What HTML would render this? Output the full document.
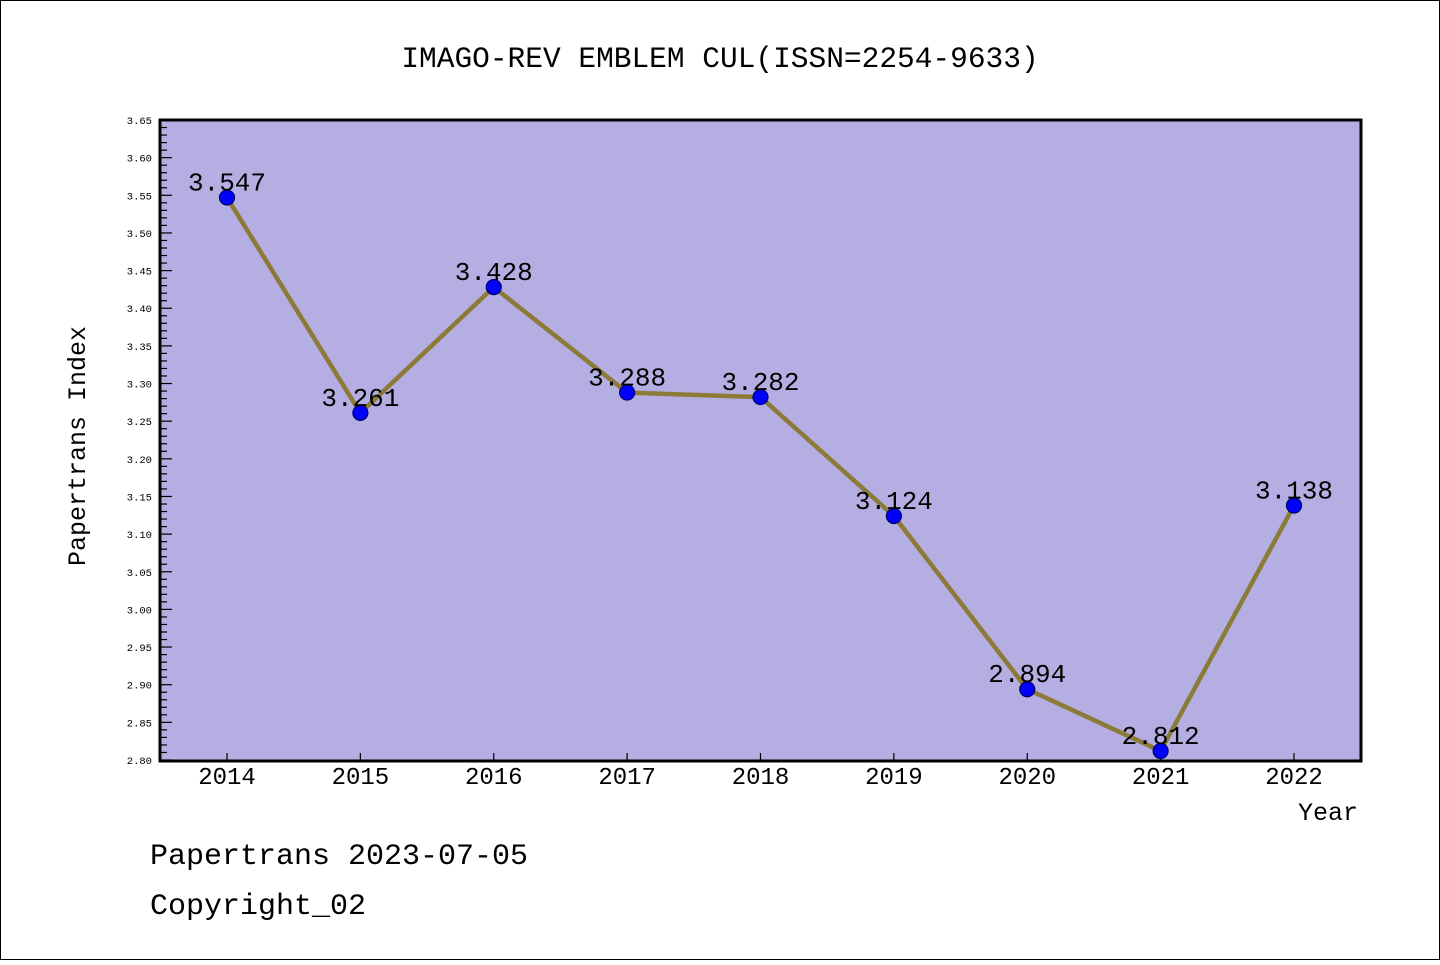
<!DOCTYPE html>
<html><head><meta charset="utf-8"><style>
body{margin:0;background:#fff}
svg text{font-family:"Liberation Mono",monospace;fill:#000}
</style></head><body>
<svg width="1440" height="960" xmlns="http://www.w3.org/2000/svg">
<rect x="0.5" y="0.5" width="1439" height="959" fill="#fff" stroke="#000"/>
<text x="720" y="67" font-size="29.5" text-anchor="middle">IMAGO-REV EMBLEM CUL(ISSN=2254-9633)</text>
<rect x="160" y="120" width="1201" height="641" fill="#b5aee2"/>
<g id="ticks"></g>
<g id="series"></g>
<rect x="160" y="120" width="1201" height="641" fill="none" stroke="#000" stroke-width="3"/>
<text transform="translate(85,446) rotate(-90)" font-size="25" text-anchor="middle">Papertrans Index</text>
<text x="1358" y="820" font-size="25" text-anchor="end">Year</text>
<text x="150" y="864" font-size="30">Papertrans 2023-07-05</text>
<text x="150" y="914" font-size="30">Copyright_02</text>
</svg>
<script>
const years=[2014,2015,2016,2017,2018,2019,2020,2021,2022];
const values=[3.547,3.261,3.428,3.288,3.282,3.124,2.894,2.812,3.138];
const valueLabels=["3.547","3.261","3.428","3.288","3.282","3.124","2.894","2.812","3.138"];
const yTicks=["2.80","2.85","2.90","2.95","3.00","3.05","3.10","3.15","3.20","3.25","3.30","3.35","3.40","3.45","3.50","3.55","3.60","3.65"];
const NS="http://www.w3.org/2000/svg";
const yMin=2.80,yMax=3.65,yTop=120,yBot=760;
function ys(v){return yBot-(v-yMin)/(yMax-yMin)*(yBot-yTop);}
function xs(yr){return 227+(yr-2014)*(1294-227)/8;}
function mk(tag,attrs,parent){const e=document.createElementNS(NS,tag);for(const k in attrs)e.setAttribute(k,attrs[k]);parent.appendChild(e);return e;}
const tg=document.getElementById('ticks'),sg=document.getElementById('series');
for(let i=0;i<=85;i++){
  const v=yMin+i*0.01,y=ys(v),major=i%5===0;
  const t=mk('line',{x1:160,x2:major?172:167,y1:y,y2:y,stroke:'#000','stroke-width':1.2},tg);
  
  
}
yTicks.forEach(s=>{
  const t=mk('text',{x:152,y:ys(parseFloat(s))+4,'font-size':10.5,'text-anchor':'end'},tg);
  t.textContent=s;
  
  
});
years.forEach(yr=>{
  const x=xs(yr);
  const t=mk('line',{x1:x,x2:x,y1:761,y2:753,stroke:'#000','stroke-width':1.2},tg);
  
  
  const l=mk('text',{x:x,y:784,'font-size':24,'text-anchor':'middle'},tg);
  l.textContent=String(yr);
  
  
});
const pts=years.map((yr,i)=>xs(yr)+','+ys(values[i])).join(' ');
const pl=mk('polyline',{points:pts,fill:'none',stroke:'#8c7a38','stroke-width':4.5,'stroke-linejoin':'round'},sg);


years.forEach((yr,i)=>{
  const x=xs(yr),y=ys(values[i]);
  const c=mk('circle',{cx:x,cy:y,r:7.5,fill:'#0000ff',stroke:'#00006a','stroke-width':1.2},sg);
  
  
  const l=mk('text',{x:x,y:y-7,'font-size':26,'text-anchor':'middle'},sg);
  l.textContent=valueLabels[i];
  
  
});
</script>
</body></html>
